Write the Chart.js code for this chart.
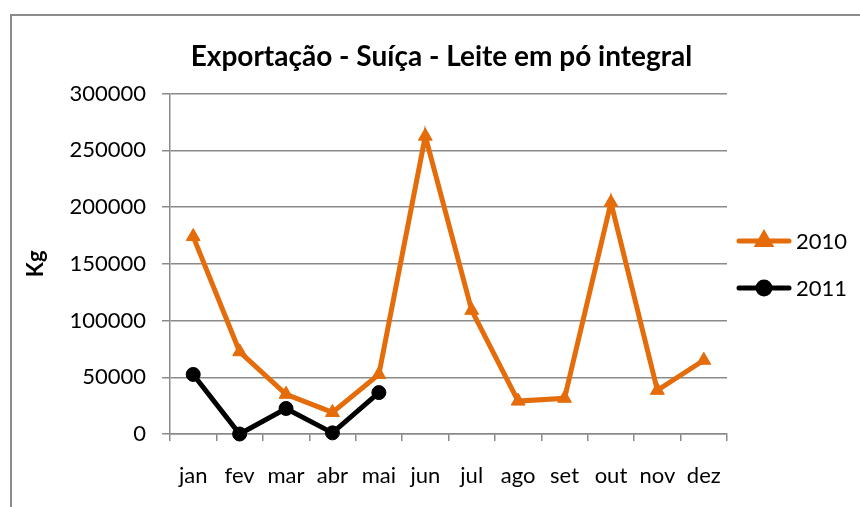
<!DOCTYPE html>
<html>
<head>
<meta charset="utf-8">
<script src="https://cdn.jsdelivr.net/npm/chart.js@4/dist/chart.umd.min.js"></script>
<style>
  html, body { margin: 0; padding: 0; background: #fff; }
  #wrap { width: 860px; height: 507px; }
</style>
</head>
<body>
<div id="wrap"><canvas id="export"></canvas></div>
<script>
// values (kg per month)
const months = ['jan', 'fev', 'mar', 'abr', 'mai', 'jun', 'jul', 'ago', 'set', 'out', 'nov', 'dez']
const kg2010 = [174000, 72500, 35000, 19000, 52500, 262500, 109000, 29000, 31500, 204000, 38500, 65000]
const kg2011 = [52500, 0, 22500, 1000, 36500]
const yTicks = [0, 50000, 100000, 150000, 200000, 250000, 300000]

const orange = '#E46C0A'
const gridGray = '#8a8a8a'
const font = 'Lato'

// grey frame of the original picture, it runs off the right and bottom edges
const framePlugin = {
    id: 'frame',
    beforeDraw(chart){
        const ctx = chart.ctx
        ctx.save()
        ctx.fillStyle = '#fff'
        ctx.fillRect(0, 0, chart.width, chart.height)
        ctx.strokeStyle = '#8c8c8c'
        ctx.lineWidth = 2
        ctx.strokeRect(11, 15, chart.width + 20, chart.height + 20)
        ctx.restore()
    }
}

// legend drawn like the excel one: line with the marker in the middle
const lineLegend = {
    id: 'lineLegend',
    afterDraw(chart){
        const ctx = chart.ctx
        const rows = [241, 288]
        chart.data.datasets.forEach((ds, i) => {
            const y = rows[i]
            ctx.save()
            ctx.strokeStyle = ds.borderColor
            ctx.fillStyle = ds.borderColor
            ctx.lineWidth = ds.borderWidth
            ctx.lineCap = 'round'
            ctx.beginPath()
            ctx.moveTo(739, y)
            ctx.lineTo(789, y)
            ctx.stroke()
            Chart.helpers.drawPoint(ctx, {
                pointStyle: ds.pointStyle,
                radius: ds.pointRadius - 1,
                borderWidth: 1,
                rotation: 0
            }, 764, y)
            ctx.fillStyle = '#000'
            ctx.font = '22px ' + font
            ctx.textBaseline = 'middle'
            ctx.textAlign = 'left'
            ctx.fillText(ds.label, 796, y + 1)
            ctx.restore()
        })
    }
}

new Chart(document.querySelector('#export'), {
    type: 'line',
    data: {
        labels: months,
        datasets: [{
            label: '2010',
            data: kg2010,
            borderColor: orange,
            backgroundColor: orange,
            borderWidth: 5,
            pointStyle: 'triangle',
            pointRadius: 8,
            pointBorderWidth: 1,
            pointBackgroundColor: orange,
            pointBorderColor: orange,
            tension: 0,
            clip: false
        }, {
            label: '2011',
            data: kg2011,
            borderColor: '#000',
            backgroundColor: '#000',
            borderWidth: 5,
            pointStyle: 'circle',
            pointRadius: 7,
            pointBorderWidth: 1,
            pointBackgroundColor: '#000',
            pointBorderColor: '#000',
            tension: 0,
            clip: false
        }]
    },
    options: {
        responsive: true,
        maintainAspectRatio: false,
        animation: false,
        layout: {padding: {left: 23, right: 0, top: 0, bottom: 0}},
        plugins: {
            legend: {display: false},
            tooltip: {enabled: false},
            title: {
                display: true,
                text: 'Exportação - Suíça - Leite em pó integral',
                color: '#000',
                font: {family: font, size: 28, weight: 'bold'},
                padding: {top: 40, bottom: 20}
            }
        },
        scales: {
            x: {
                offset: true,
                grid: {
                    offset: true,
                    drawOnChartArea: false,
                    drawTicks: true,
                    tickLength: 7,
                    color: gridGray,
                    lineWidth: 1.5
                },
                border: {color: gridGray, width: 1.5},
                ticks: {color: '#000', font: {family: font, size: 22}, padding: 22, maxRotation: 0, autoSkip: false},
                afterFit: scale => { scale.height = 73 }
            },
            y: {
                min: 0,
                max: 300000,
                afterBuildTicks: scale => { scale.ticks = yTicks.map(v => ({value: v})) },
                grid: {color: gridGray, lineWidth: 1.5, tickLength: 8},
                border: {color: gridGray, width: 1.5},
                ticks: {
                    color: '#000',
                    font: {family: font, size: 22},
                    padding: 16,
                    callback: v => String(v)
                },
                title: {
                    display: true,
                    text: 'Kg',
                    color: '#000',
                    font: {family: font, size: 22, weight: 'bold'},
                    padding: {top: 0, bottom: 0}
                },
                afterFit: scale => { scale.width = 147 }
            },
            // empty axis on the right only to keep room for the legend
            legendRoom: {
                type: 'linear',
                position: 'right',
                min: 0,
                max: 1,
                grid: {display: false},
                border: {display: false},
                ticks: {display: false},
                afterFit: scale => { scale.width = 133 }
            }
        }
    },
    plugins: [framePlugin, lineLegend]
})
</script>
</body>
</html>
